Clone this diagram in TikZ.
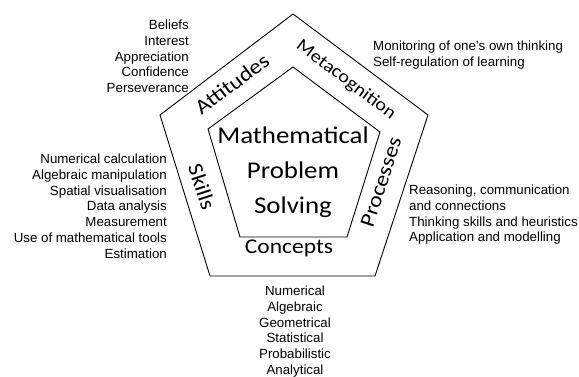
\documentclass[tikz,border=0pt]{standalone}
\usepackage{fontspec}
\setmainfont{Liberation Sans}
\newfontfamily\handfont{Carlito}[FakeStretch=1.12]

\begin{document}
\begin{tikzpicture}[x=1pt,y=-1pt,
  rim/.style={draw=black,line width=0.9pt,line join=miter},
  aspect/.style={font=\handfont\fontsize{21}{24}\selectfont,inner sep=0pt},
  core/.style={font=\handfont\fontsize{24}{35}\selectfont,align=center,
    inner sep=0pt},
  items/.style={font=\fontsize{13.3}{15.7}\selectfont,inner sep=0pt}]
  \useasboundingbox (0,0) rectangle (579,376);
  \draw[rim] (293,14) -- (428,115) -- (375,276) -- (210,276) -- (160,115)
    -- cycle;
  \draw[rim] (293,67) -- (380,132) -- (347,237) -- (240,237) -- (208,129)
    -- cycle;
  \node[core,anchor=north] (mps) at (293,127) {Mathematical\\ Problem\\
    Solving};
  \node[aspect,rotate=37] (att) at (232,84) {Attitudes};
  \node[aspect,rotate=-37,font=\handfont\fontsize{18}{20}\selectfont]
    (meta) at (346,80) {Metacognition};
  \node[aspect,rotate=72] (proc) at (381,182) {Processes};
  \node[aspect,rotate=-72] (skl) at (202,187) {Skills};
  \node[aspect] (conc) at (289,248) {Concepts};
  \node[items,align=right,anchor=north east] (attlist) at (189,20) {Beliefs\\
    Interest\\ Appreciation\\ Confidence\\ Perseverance};
  \node[items,align=left,anchor=north west] (metalist) at (373,41)
    {Monitoring of one's own thinking\\ Self-regulation of learning};
  \node[items,align=right,anchor=north east] (skllist) at (167,154)
    {Numerical calculation\\ Algebraic manipulation\\ Spatial visualisation\\
    Data analysis\\ Measurement\\ Use of mathematical tools\\ Estimation};
  \node[items,align=left,anchor=north west] (proclist) at (409,185)
    {Reasoning, communication\\ and connections\\
    Thinking skills and heuristics\\ Application and modelling};
  \node[items,align=center,anchor=north] (conclist) at (295,286) {Numerical\\
    Algebraic\\ Geometrical\\ Statistical\\ Probabilistic\\ Analytical};
\end{tikzpicture}
\end{document}
